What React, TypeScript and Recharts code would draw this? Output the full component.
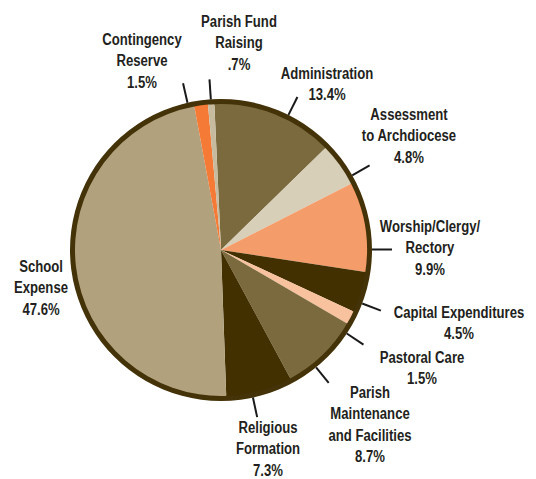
import React from 'react';
import { PieChart, Pie, Cell } from 'recharts';

const categories = [
  'Administration',
  'Assessment to Archdiocese',
  'Worship/Clergy/Rectory',
  'Capital Expenditures',
  'Pastoral Care',
  'Parish Maintenance and Facilities',
  'Religious Formation',
  'School Expense',
  'Contingency Reserve',
  'Parish Fund Raising',
];
const shares = [13.4, 4.8, 9.9, 4.5, 1.5, 8.7, 7.3, 47.6, 1.5, 0.7];
const shareLabels = ['13.4%', '4.8%', '9.9%', '4.5%', '1.5%', '8.7%', '7.3%', '47.6%', '1.5%', '.7%'];
const labelLines = [
  ['Administration'],
  ['Assessment', 'to Archdiocese'],
  ['Worship/Clergy/', 'Rectory'],
  ['Capital Expenditures'],
  ['Pastoral Care'],
  ['Parish', 'Maintenance', 'and Facilities'],
  ['Religious', 'Formation'],
  ['School', 'Expense'],
  ['Contingency', 'Reserve'],
  ['Parish Fund', 'Raising'],
];

const colors = ['#7b6a3d', '#d8cfb9', '#f59d6a', '#433000', '#f9c29e', '#7b6a3d', '#433000', '#b1a17d', '#f47a36', '#c7bb9f'];
// text block position (first line centre) relative to the pie centre
const labelOffset = [
  [109, -173], [191, -132], [212, -20], [241, 66], [204, 111],
  [152, 146], [50, 181], [-177, 20], [-76, -207], [21, -225],
];
// small angle tweaks so the leader lines sit like the printed ones
const leaderShift = [-5, -6, -9, -4, -6, -5, -3, 0, 5, 0];
const hasLeader = [true, true, true, true, true, true, true, false, true, true];

const data = categories.map((name, i) => ({ name, value: shares[i] }));
const ring = [{ name: 'ring', value: 1 }];

const RAD = Math.PI / 180;
const CX = 216;
const CY = 245;
const R = 146;
const RING_OUT = 151;
const FONT = '"Liberation Sans", Arial, sans-serif';

const renderLabel = (props: any) => {
  const { cx, cy, midAngle, index } = props;
  const a = (midAngle + leaderShift[index]) * RAD;
  const cos = Math.cos(-a);
  const sin = Math.sin(-a);
  const [dx, dy] = labelOffset[index];
  const lines = [...labelLines[index], shareLabels[index]];
  return (
    <g key={`lbl-${index}`}>
      {hasLeader[index] && (
        <line
          x1={cx + RING_OUT * cos}
          y1={cy + RING_OUT * sin}
          x2={cx + (RING_OUT + 20) * cos}
          y2={cy + (RING_OUT + 20) * sin}
          stroke="#1a1a1a"
          strokeWidth={2}
        />
      )}
      <g transform={`translate(${cx + dx - 3}, ${cy + dy + 2}) scale(0.82, 1)`}>
        <text
          x={0}
          y={0}
          textAnchor="middle"
          fill="#231f20"
          style={{ fontFamily: FONT, fontWeight: 700, fontSize: 16 }}
        >
          {lines.map((t, k) => (
            <tspan key={k} x={0} dy={k === 0 ? 0 : 21.5}>{t}</tspan>
          ))}
        </text>
      </g>
    </g>
  );
};

export default function App() {
  return (
    <div style={{ position: 'absolute', left: 0, top: 0, background: '#fff' }}>
      <PieChart width={536} height={479}>
        <Pie
          data={ring}
          dataKey="value"
          cx={CX}
          cy={CY}
          innerRadius={R - 1}
          outerRadius={RING_OUT}
          fill="#443208"
          stroke="none"
          isAnimationActive={false}
        />
        <Pie
          data={data}
          dataKey="value"
          cx={CX}
          cy={CY}
          outerRadius={R}
          startAngle={92.6}
          endAngle={92.6 - 360}
          stroke="none"
          label={renderLabel}
          labelLine={false}
          isAnimationActive={false}
        >
          {data.map((d, i) => (
            <Cell key={d.name} fill={colors[i]} />
          ))}
        </Pie>
      </PieChart>
    </div>
  );
}
